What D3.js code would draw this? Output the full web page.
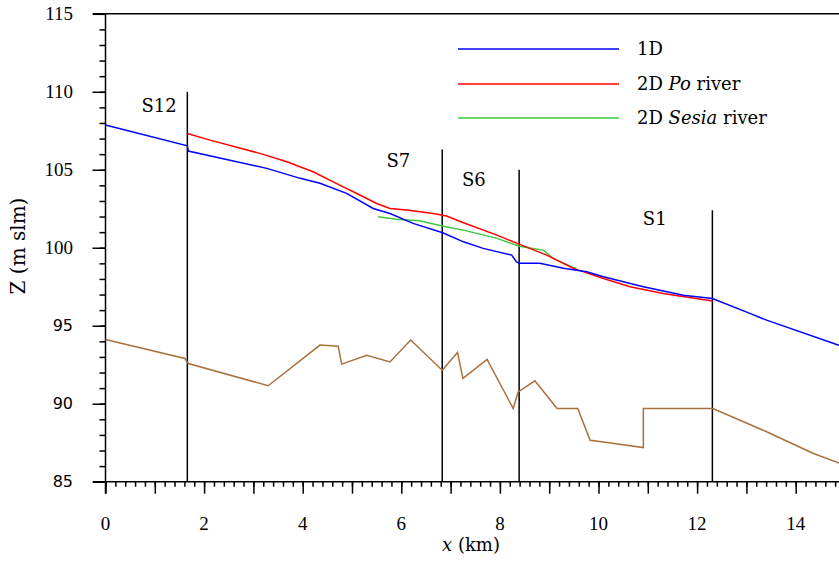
<!DOCTYPE html>
<html>
<head>
<meta charset="utf-8">
<script src="https://cdn.jsdelivr.net/npm/d3@7"></script>
<style>
  body { margin: 0; background: #fff; }
  svg { display: block; }
</style>
</head>
<body>
<div class="graph"></div>
<script>
// water surface profiles, x in km, Z in m slm
var blueX = [0, 1.66, 1.68, 3.27, 3.95, 4.35, 4.89, 5.43, 5.77, 6.24, 6.84, 7.26, 7.66, 8.24, 8.33, 8.39, 8.81, 9.29, 9.76, 10.1, 10.91, 11.72, 12.31, 13.07, 13.41, 14.86, 15];
var blueZ = [107.87, 106.54, 106.2, 105.09, 104.45, 104.13, 103.49, 102.52, 102.2, 101.56, 100.96, 100.38, 99.96, 99.53, 99.1, 99.0, 99.0, 98.68, 98.46, 98.14, 97.5, 96.96, 96.75, 95.79, 95.36, 93.76, 93.62];

var redX = [1.66, 2.12, 3.13, 3.68, 4.21, 4.75, 5.16, 5.5, 5.77, 6.11, 6.65, 6.92, 7.26, 7.94, 8.39, 8.95, 9.49, 10.1, 10.64, 11.31, 12.31];
var redZ = [107.33, 106.9, 106.05, 105.51, 104.87, 104.02, 103.38, 102.84, 102.52, 102.42, 102.2, 102.03, 101.6, 100.81, 100.23, 99.53, 98.68, 98.03, 97.5, 97.07, 96.58];

var greenX = [5.53, 5.9, 6.37, 6.83, 7.26, 7.94, 8.39, 8.88, 9.08, 9.49, 9.55];
var greenZ = [101.99, 101.82, 101.73, 101.39, 101.13, 100.6, 100.1, 99.85, 99.32, 98.74, 98.68];

// river bed
var bedX = [0, 1.61, 1.68, 3.3, 4.35, 4.72, 4.79, 5.3, 5.77, 6.19, 6.83, 7.14, 7.25, 7.74, 8.27, 8.37, 8.71, 9.16, 9.58, 9.83, 10.1, 10.91, 10.91, 12.32, 13.41, 14.36, 15];
var bedZ = [94.12, 92.9, 92.58, 91.15, 93.76, 93.69, 92.54, 93.11, 92.68, 94.08, 92.15, 93.29, 91.62, 92.84, 89.69, 90.76, 91.47, 89.69, 89.69, 87.66, 87.55, 87.19, 89.69, 89.69, 88.2, 86.81, 86.05];

// cross sections
var sectionNames = ["S12", "S7", "S6", "S1"];
var sectionX = [1.66, 6.83, 8.39, 12.31];
var sectionTop = [110, 106.3, 105, 102.4];
var sectionLabelX = [0.73, 5.70, 7.23, 10.90];
var sectionLabelZ = [108.68, 105.17, 103.97, 101.45];

var legendNames = ["1D", "2D Po river", "2D Sesia river"];
var xTickLabels = [0, 2, 4, 6, 8, 10, 12, 14];
var yTickLabels = [85, 90, 95, 100, 105, 110, 115];

var w = 839;
var h = 561;
var SERIF = "'DejaVu Serif', 'Liberation Serif', serif";
var TIMES = "'Liberation Serif', 'DejaVu Serif', serif";
var SANS = "'DejaVu Sans', sans-serif";

var svg = d3.select('div.graph')
            .append("svg")
            .attr("width", w)
            .attr("height", h);

var x = d3.scaleLinear().domain([0, 15]).range([105.5, 845]);
var y = d3.scaleLinear().domain([85, 115]).range([481.7, 13.8]);

function pts(xs, zs) {
  return xs.map(function(d, i) { return [d, zs[i]]; });
}

var line = d3.line()
  .x(function(d) { return x(d[0]); })
  .y(function(d) { return y(d[1]); });

// frame: top line
svg.append("line")
   .attr("x1", 93).attr("x2", w)
   .attr("y1", y(115)).attr("y2", y(115))
   .attr("stroke", "#000").attr("stroke-width", 1.5);

// x axis, minor ticks every 0.2 km
var xMinor = d3.range(0, 76).map(function(i) { return i * 0.2; });
var xMajor = d3.range(0, 16);

function tickOnly(g) {
  g.select(".domain").remove();
  g.selectAll("line").attr("stroke-width", 1.5);
}

svg.append("g")
   .attr("transform", "translate(0," + y(85) + ")")
   .call(d3.axisBottom(x).tickValues(xMinor).tickSize(5).tickFormat(""))
   .call(tickOnly);

svg.append("g")
   .attr("transform", "translate(0," + y(85) + ")")
   .call(d3.axisBottom(x).tickValues(xMajor).tickSize(12).tickFormat(""))
   .call(tickOnly);

svg.append("line")
   .attr("x1", 93).attr("x2", w)
   .attr("y1", y(85)).attr("y2", y(85))
   .attr("stroke", "#000").attr("stroke-width", 1.5);

svg.selectAll("text.xlab")
   .data(xTickLabels)
   .enter()
   .append("text")
   .attr("class", "xlab")
   .attr("x", function(d) { return x(d); })
   .attr("y", 530)
   .attr("text-anchor", "middle")
   .style("font-family", TIMES)
   .style("font-size", "19px")
   .text(function(d) { return d; });

// y axis
var yMinor = d3.range(85, 116);
var yMajor = d3.range(85, 116, 5);

svg.append("g")
   .attr("transform", "translate(" + x(0) + ",0)")
   .call(d3.axisLeft(y).tickValues(yMinor).tickSize(6).tickFormat(""))
   .call(tickOnly);

svg.append("g")
   .attr("transform", "translate(" + x(0) + ",0)")
   .call(d3.axisLeft(y).tickValues(yMajor).tickSize(13).tickFormat(""))
   .call(tickOnly);

svg.append("line")
   .attr("x1", x(0)).attr("x2", x(0))
   .attr("y1", y(115)).attr("y2", y(85) + 12)
   .attr("stroke", "#000").attr("stroke-width", 1.5);

svg.selectAll("text.ylab")
   .data(yTickLabels)
   .enter()
   .append("text")
   .attr("class", "ylab")
   .attr("x", 73)
   .attr("y", function(d) { return y(d); })
   .attr("dy", "0.35em")
   .attr("text-anchor", "end")
   .style("font-family", function(d) { return d < 100 ? SANS : TIMES; })
   .style("font-size", function(d) { return d < 100 ? "16px" : "19px"; })
   .text(function(d) { return d; });

// axis titles
var xt = svg.append("text")
   .attr("x", 471).attr("y", 551)
   .attr("text-anchor", "middle")
   .style("font-family", SERIF)
   .style("font-size", "18px");
xt.append("tspan").style("font-style", "italic").text("x");
xt.append("tspan").text(" (km)");

svg.append("text")
   .attr("transform", "translate(25,246) rotate(-90)")
   .attr("text-anchor", "middle")
   .style("font-family", SERIF)
   .style("font-size", "20px")
   .text("Z (m slm)");

// section lines
svg.selectAll("line.section")
   .data(sectionX)
   .enter()
   .append("line")
   .attr("class", "section")
   .attr("x1", function(d) { return x(d); })
   .attr("x2", function(d) { return x(d); })
   .attr("y1", function(d, i) { return y(sectionTop[i]); })
   .attr("y2", y(85))
   .attr("stroke", "#000")
   .attr("stroke-width", 1.5);

svg.selectAll("text.section")
   .data(sectionNames)
   .enter()
   .append("text")
   .attr("class", "section")
   .attr("x", function(d, i) { return x(sectionLabelX[i]); })
   .attr("y", function(d, i) { return y(sectionLabelZ[i]); })
   .style("font-family", SERIF)
   .style("font-size", "18px")
   .text(function(d) { return d; });

// profiles
var series = [
  { xs: bedX, zs: bedZ, color: "#a8703c" },
  { xs: greenX, zs: greenZ, color: "#3cc83c" },
  { xs: redX, zs: redZ, color: "#ff0000" },
  { xs: blueX, zs: blueZ, color: "#0000ff" }
];

svg.selectAll("path.profile")
   .data(series)
   .enter()
   .append("path")
   .attr("class", "profile")
   .attr("d", function(d) { return line(pts(d.xs, d.zs)); })
   .attr("fill", "none")
   .attr("stroke", function(d) { return d.color; })
   .attr("stroke-width", 1.5);

// legend
var legendColors = ["#0000ff", "#ff0000", "#3cc83c"];
var legendY = [49, 84, 118];
var lg = svg.append("g");
lg.selectAll("line")
  .data(legendNames)
  .enter()
  .append("line")
  .attr("x1", 458).attr("x2", 619)
  .attr("y1", function(d, i) { return legendY[i]; })
  .attr("y2", function(d, i) { return legendY[i]; })
  .attr("stroke", function(d, i) { return legendColors[i]; })
  .attr("stroke-width", 1.5);

lg.selectAll("text")
  .data(legendNames)
  .enter()
  .append("text")
  .attr("x", 637)
  .attr("y", function(d, i) { return legendY[i] + 6; })
  .style("font-family", SERIF)
  .style("font-size", "18px")
  .each(function(d) {
    var t = d3.select(this);
    var parts = d.split(" ");
    if (parts.length == 1) { t.text(d); return; }
    t.append("tspan").text(parts[0] + " ");
    t.append("tspan").style("font-style", "italic").text(parts[1]);
    t.append("tspan").text(" " + parts.slice(2).join(" "));
  });
</script>
</body>
</html>
